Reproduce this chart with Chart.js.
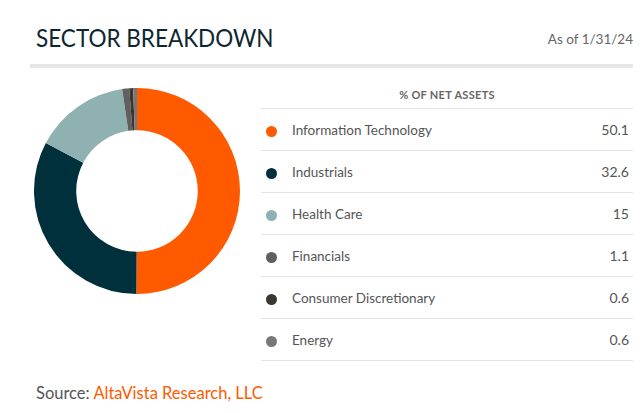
<!DOCTYPE html>
<html>
<head>
<meta charset="utf-8">
<script src="https://cdn.jsdelivr.net/npm/chart.js@4"></script>
<style>
    html, body {
        margin: 0;
        padding: 0;
        background: #fff;
        width: 640px;
        height: 413px;
        overflow: hidden;
        font-family: Lato, "Open Sans", sans-serif;
    }
    #title {
        position: absolute;
        left: 36px;
        top: 22px;
        font-size: 25px;
        color: #0d2630;
        transform: scaleX(0.9);
        transform-origin: left top;
        white-space: nowrap;
    }
    #asof {
        position: absolute;
        right: 7px;
        top: 31px;
        font-size: 13.5px;
        color: #666;
    }
    #rule {
        position: absolute;
        left: 30px;
        top: 64px;
        width: 603px;
        height: 4px;
        background: #e6e6e6;
    }
    #chartBox {
        position: absolute;
        left: 34px;
        top: 88px;
        width: 206px;
        height: 206px;
    }
    #table {
        position: absolute;
        left: 261px;
        top: 80px;
        width: 372px;
        border-collapse: collapse;
        font-size: 13.5px;
        color: #555;
    }
    #table th {
        height: 26px;
        font-size: 11px;
        font-weight: bold;
        color: #666;
        text-align: center;
        border-bottom: 1px solid #e3e3e3;
        letter-spacing: 0.3px;
    }
    #table td {
        height: 41px;
        border-bottom: 1px solid #e3e3e3;
        padding: 0;
    }
    .dot {
        display: inline-block;
        width: 11px;
        height: 11px;
        border-radius: 50%;
        margin-left: 5px;
        vertical-align: middle;
    }
    .val {
        text-align: right;
        padding-right: 4px !important;
        font-size: 14px;
    }
    #source {
        position: absolute;
        left: 36px;
        top: 383px;
        font-size: 16.5px;
        color: #555;
    }
    #source span {
        color: #ff5a00;
    }
</style>
</head>
<body>
<div id="title">SECTOR BREAKDOWN</div>
<div id="asof">As of 1/31/24</div>
<div id="rule"></div>
<div id="chartBox"><canvas id="donut"></canvas></div>
<table id="table">
    <thead><tr><th colspan="3">% OF NET ASSETS</th></tr></thead>
    <tbody id="rows"></tbody>
</table>
<div id="source">Source: <span>AltaVista Research, LLC</span></div>

<script>
// Данные секторов
const sectors = ['Information Technology', 'Industrials', 'Health Care', 'Financials', 'Consumer Discretionary', 'Energy'];
const weights = [50.1, 32.6, 15, 1.1, 0.6, 0.6];
const sectorColors = ['#ff5a00', '#00303c', '#8fb1b1', '#606060', '#3a3631', '#787878'];

// Таблица справа
const rows = document.getElementById('rows');
for (let i = 0; i < sectors.length; i++) {
    const tr = document.createElement('tr');
    tr.innerHTML =
        '<td style="width:31px"><span class="dot" style="background:' + sectorColors[i] + '"></span></td>' +
        '<td>' + sectors[i] + '</td>' +
        '<td class="val">' + weights[i] + '</td>';
    rows.appendChild(tr);
}

// Кольцевая диаграмма
const ctx = document.getElementById('donut').getContext('2d');
new Chart(ctx, {
    type: 'doughnut',
    data: {
        labels: sectors,
        datasets: [{
            data: weights,
            backgroundColor: sectorColors,
            borderWidth: 0
        }]
    },
    options: {
        responsive: true,
        maintainAspectRatio: false,
        animation: false,
        cutout: '59%',
        layout: { padding: 0 },
        plugins: {
            legend: { display: false },
            tooltip: { enabled: false }
        }
    }
});
</script>
</body>
</html>
